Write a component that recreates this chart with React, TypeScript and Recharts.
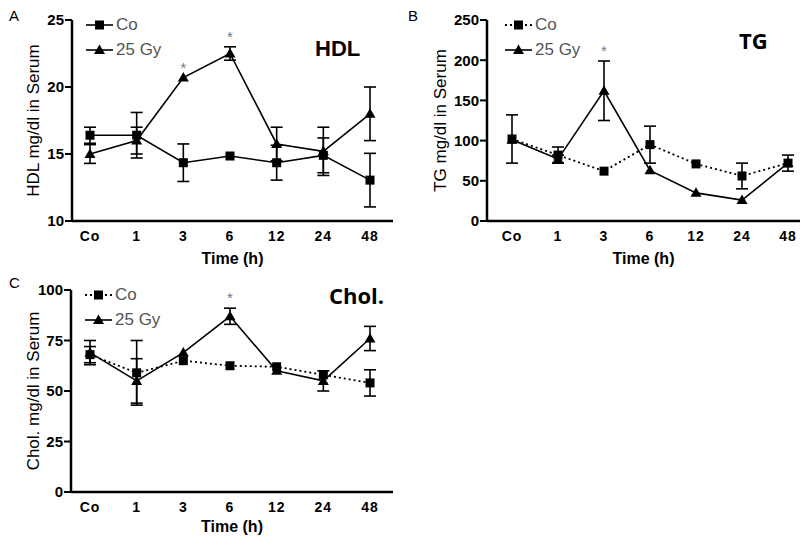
import React from 'react';
import { LineChart, Line, XAxis, YAxis, ErrorBar, ReferenceDot } from 'recharts';

const categories = ['Co', '1', '3', '6', '12', '24', '48'];

// HDL (panel A)
const hdlCo = [16.4, 16.4, 14.35, 14.85, 14.35, 14.9, 13.05];
const hdlCoErr = [0.6, 1.7, 1.4, null, 1.3, 1.3, 2.0];
const hdlGy = [15.0, 16.0, 20.7, 22.5, 15.75, 15.2, 18.0];
const hdlGyErr = [0.7, 1.0, null, 0.5, 1.25, 1.8, 2.0];
const hdlStars = ['3', '6'];
const hdlTicks = [10, 15, 20, 25];

// TG (panel B)
const tgCo = [102, 82, 62, 95, 71, 56, 72];
const tgCoErr = [30, 10, null, 23, null, 16, null];
const tgGy = [101, 77, 162, 63, 35, 26, 72];
const tgGyErr = [null, 5, 37, null, null, null, 10];
const tgStars = ['3'];
const tgTicks = [0, 50, 100, 150, 200, 250];

// Cholesterol (panel C)
const cholCo = [68, 59, 65, 62.5, 62, 58, 54];
const cholCoErr = [4, 16, null, null, null, null, 6.5];
const cholGy = [69, 55, 69, 87, 60, 55, 76];
const cholGyErr = [6, 11, null, 4, null, 5, 6];
const cholStars = ['6'];
const cholTicks = [0, 25, 50, 75, 100];

const font = '"Liberation Sans", Arial, sans-serif';

const Square = (props: any) => {
  const { cx, cy, index } = props;
  if (cx == null || cy == null) return null;
  return <rect key={`sq-${index}`} x={cx - 4.5} y={cy - 4.5} width={9} height={9} fill="#000" />;
};

const Triangle = (props: any) => {
  const { cx, cy, index } = props;
  if (cx == null || cy == null) return null;
  return (
    <path
      key={`tr-${index}`}
      d={`M${cx},${cy - 5.5} L${cx + 5.5},${cy + 4} L${cx - 5.5},${cy + 4} Z`}
      fill="#000"
    />
  );
};

interface PanelProps {
  co: (number | null)[];
  coErr: (number | null)[];
  gy: (number | null)[];
  gyErr: (number | null)[];
  stars: string[];
  ticks: number[];
  yLabel: string;
  height: number;
  yAxisWidth: number;
  labelDx: number;
  padding: { left: number; right: number };
  marginRight: number;
  dotted: boolean;
  xAxisHeight: number;
}

const Panel: React.FC<PanelProps> = (p) => {
  const data = categories.map((c, i) => ({
    cat: c,
    co: p.co[i],
    coErr: p.coErr[i],
    gy: p.gy[i],
    gyErr: p.gyErr[i],
  }));

  return (
    <LineChart
      width={400}
      height={p.height}
      data={data}
      margin={{ top: 20, right: p.marginRight, bottom: 0, left: 0 }}
    >
      <XAxis
        dataKey="cat"
        padding={p.padding}
        height={p.xAxisHeight}
        axisLine={{ stroke: '#000', strokeWidth: 2.5 }}
        tickLine={false}
        tickMargin={4}
        tick={{ fill: '#000', fontSize: 14, fontWeight: 'bold', fontFamily: font, letterSpacing: 1 }}
        label={{
          value: 'Time (h)',
          position: 'insideBottom',
          offset: 6,
          fill: '#000',
          fontSize: 16,
          fontWeight: 'bold',
          fontFamily: font,
        }}
      />
      <YAxis
        width={p.yAxisWidth}
        domain={[p.ticks[0], p.ticks[p.ticks.length - 1]]}
        ticks={p.ticks}
        interval={0}
        axisLine={{ stroke: '#000', strokeWidth: 2.5 }}
        tickLine={{ stroke: '#000', strokeWidth: 2 }}
        tickSize={7}
        tickMargin={1}
        tick={{ fill: '#000', fontSize: 15, fontWeight: 'bold', fontFamily: font }}
        label={{
          value: p.yLabel,
          angle: -90,
          position: 'center',
          dx: p.labelDx,
          fill: '#000',
          fontSize: 17,
          fontFamily: font,
        }}
      />
      <Line
        dataKey="co"
        stroke="#000"
        strokeWidth={p.dotted ? 1.8 : 1.6}
        strokeDasharray={p.dotted ? '2 3' : undefined}
        dot={Square}
        activeDot={false}
        isAnimationActive={false}
      >
        <ErrorBar dataKey="coErr" direction="y" width={6} stroke="#000" strokeWidth={1.6} />
      </Line>
      <Line
        dataKey="gy"
        stroke="#000"
        strokeWidth={1.6}
        dot={Triangle}
        activeDot={false}
        isAnimationActive={false}
      >
        <ErrorBar dataKey="gyErr" direction="y" width={6} stroke="#000" strokeWidth={1.6} />
      </Line>
      {p.stars.map((s) => {
        const i = categories.indexOf(s);
        return (
          <ReferenceDot
            key={`star-${s}`}
            x={s}
            y={(p.gy[i] ?? 0) + (p.gyErr[i] ?? 0)}
            r={0}
            stroke="none"
            ifOverflow="visible"
            label={{ value: '*', position: 'top', offset: 5, fill: '#777', fontSize: 15, fontFamily: font }}
          />
        );
      })}
    </LineChart>
  );
};

const LegendBox: React.FC<{ left: number; top: number; dotted: boolean }> = ({ left, top, dotted }) => (
  <div style={{ position: 'absolute', left, top, fontFamily: font, fontSize: 17, color: '#555' }}>
    <div style={{ display: 'flex', alignItems: 'center', height: 25 }}>
      <svg width={30} height={12}>
        <line x1={1} y1={6} x2={28} y2={6} stroke="#000" strokeWidth={dotted ? 1.8 : 1.6} strokeDasharray={dotted ? '2 3' : undefined} />
        <rect x={10} y={1.5} width={9} height={9} fill="#000" />
      </svg>
      <span style={{ marginLeft: 1 }}>Co</span>
    </div>
    <div style={{ display: 'flex', alignItems: 'center', height: 25 }}>
      <svg width={30} height={12}>
        <line x1={1} y1={6} x2={28} y2={6} stroke="#000" strokeWidth={1.6} />
        <path d="M14.5,0.5 L20,10 L9,10 Z" fill="#000" />
      </svg>
      <span style={{ marginLeft: 1 }}>25 Gy</span>
    </div>
  </div>
);

const txt = (left: number, top: number, s: string, size: number, bold: boolean, family = font) => (
  <div
    style={{
      position: 'absolute',
      left,
      top,
      fontFamily: family,
      fontSize: size,
      fontWeight: bold ? 'bold' : 'normal',
      color: '#000',
      lineHeight: 1,
    }}
  >
    {s}
  </div>
);

const App: React.FC = () => (
  <div style={{ position: 'absolute', left: 0, top: 0, width: 800, height: 538, background: '#fff', overflow: 'hidden' }}>
    <div style={{ position: 'absolute', left: 0, top: 0 }}>
      <Panel
        co={hdlCo}
        coErr={hdlCoErr}
        gy={hdlGy}
        gyErr={hdlGyErr}
        stars={hdlStars}
        ticks={hdlTicks}
        yLabel="HDL mg/dl in Serum"
        height={270}
        yAxisWidth={72}
        labelDx={-3}
        padding={{ left: 18, right: 23 }}
        marginRight={7}
        dotted={false}
        xAxisHeight={49}
      />
    </div>
    <div style={{ position: 'absolute', left: 400, top: 0 }}>
      <Panel
        co={tgCo}
        coErr={tgCoErr}
        gy={tgGy}
        gyErr={tgGyErr}
        stars={tgStars}
        ticks={tgTicks}
        yLabel="TG mg/dl in Serum"
        height={270}
        yAxisWidth={87}
        labelDx={-3.5}
        padding={{ left: 25, right: 12 }}
        marginRight={0}
        dotted={true}
        xAxisHeight={49}
      />
    </div>
    <div style={{ position: 'absolute', left: 0, top: 270 }}>
      <Panel
        co={cholCo}
        coErr={cholCoErr}
        gy={cholGy}
        gyErr={cholGyErr}
        stars={cholStars}
        ticks={cholTicks}
        yLabel="Chol. mg/dl in Serum"
        height={268}
        yAxisWidth={71}
        labelDx={-3}
        padding={{ left: 19, right: 23 }}
        marginRight={7}
        dotted={true}
        xAxisHeight={46}
      />
    </div>
    <LegendBox left={85} top={12} dotted={false} />
    <LegendBox left={504} top={12} dotted={true} />
    <LegendBox left={84} top={282} dotted={true} />
    {txt(9, 8, 'A', 15, false)}
    {txt(408, 8, 'B', 15, false)}
    {txt(9, 275, 'C', 15, false)}
    {txt(315, 38, 'HDL', 22, true)}
    {txt(739, 29, 'TG', 22, true, '"Open Sans", sans-serif')}
    {txt(329, 284, 'Chol.', 22, true, '"Open Sans", sans-serif')}
  </div>
);

export default App;
